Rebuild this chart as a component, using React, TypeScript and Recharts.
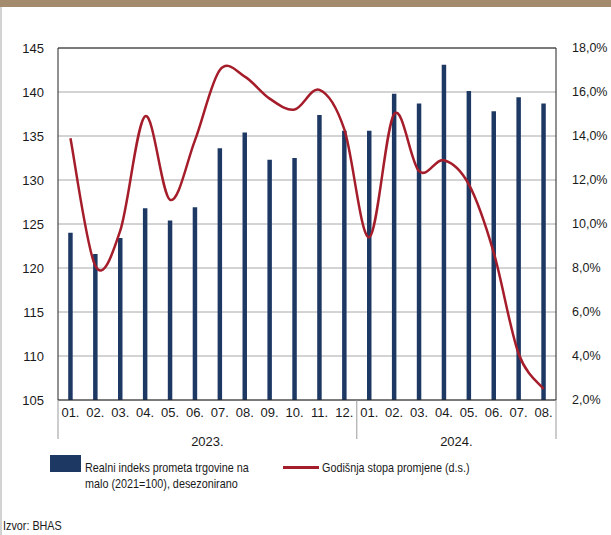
import React from 'react';
import { ComposedChart, Bar, Line, XAxis, YAxis, CartesianGrid, ReferenceLine } from 'recharts';

const months = ['01.', '02.', '03.', '04.', '05.', '06.', '07.', '08.', '09.', '10.', '11.', '12.', '01.', '02.', '03.', '04.', '05.', '06.', '07.', '08.'];
const years = ['2023.', '2023.', '2023.', '2023.', '2023.', '2023.', '2023.', '2023.', '2023.', '2023.', '2023.', '2023.', '2024.', '2024.', '2024.', '2024.', '2024.', '2024.', '2024.', '2024.'];
const retailIndex = [124.0, 121.6, 123.4, 126.8, 125.4, 126.9, 133.6, 135.4, 132.3, 132.5, 137.4, 135.6, 135.6, 139.8, 138.7, 143.1, 140.1, 137.8, 139.4, 138.7];
const annualRate = [13.9, 8.1, 9.7, 14.9, 11.1, 13.8, 17.0, 16.7, 15.7, 15.2, 16.1, 14.3, 9.4, 15.0, 12.4, 12.9, 11.8, 8.7, 4.1, 2.5];
const leftTicks = [105, 110, 115, 120, 125, 130, 135, 140, 145];
const rightTicks = [2, 4, 6, 8, 10, 12, 14, 16, 18];

const data = months.map((m, i) => ({ key: `${years[i]}${m}`, month: m, year: years[i], index: retailIndex[i], rate: annualRate[i] }));

const FONT = '"Liberation Sans", Arial, sans-serif';
const TEXT = '#1a1a1a';
const NAVY = '#1e3864';
const RED = '#a51d2a';

// Excel-like smoothed line (Catmull-Rom bezier)
const excelSmooth: any = (context: any) => {
  let pts: number[][] = [];
  return {
    areaStart() {},
    areaEnd() {},
    lineStart() {
      pts = [];
    },
    point(x: number, y: number) {
      pts.push([+x, +y]);
    },
    lineEnd() {
      if (!pts.length) return;
      context.moveTo(pts[0][0], pts[0][1]);
      for (let i = 0; i < pts.length - 1; i++) {
        const p0 = pts[i - 1] || pts[i];
        const p1 = pts[i];
        const p2 = pts[i + 1];
        const p3 = pts[i + 2] || p2;
        context.bezierCurveTo(
          p1[0] + (p2[0] - p0[0]) / 6,
          p1[1] + (p2[1] - p0[1]) / 6,
          p2[0] - (p3[0] - p1[0]) / 6,
          p2[1] - (p3[1] - p1[1]) / 6,
          p2[0],
          p2[1]
        );
      }
    },
  };
};

const YearTick = (props: any) => {
  const { x, y, index, payload, width, visibleTicksCount } = props;
  const half = payload && payload.offset ? payload.offset : width / visibleTicksCount / 2;
  const year = years[index];
  let s = index;
  while (s > 0 && years[s - 1] === year) s--;
  let e = index;
  while (e < years.length - 1 && years[e + 1] === year) e++;
  const mid = (s + e) / 2;
  const out: React.ReactNode[] = [];
  if (index === s) {
    out.push(<line key='s' x1={x - half} x2={x - half} y1={y - 33} y2={y + 6} stroke='#9a9a9a' strokeWidth={1} />);
  }
  if (index === years.length - 1) {
    out.push(<line key='e' x1={x + half} x2={x + half} y1={y - 33} y2={y + 6} stroke='#9a9a9a' strokeWidth={1} />);
  }
  if (index === Math.floor(mid)) {
    out.push(
      <text key='t' x={x + (mid - index) * 2 * half} y={y + 4} dy='0.71em' textAnchor='middle' fontSize={13} fontFamily={FONT} fill={TEXT}>
        {year}
      </text>
    );
  }
  return <g>{out}</g>;
};

const narrow: React.CSSProperties = {
  position: 'absolute',
  fontSize: 13,
  lineHeight: '16px',
  whiteSpace: 'nowrap',
  transform: 'scaleX(0.83)',
  transformOrigin: 'left top',
};

const App: React.FC = () => {
  return (
    <div style={{ position: 'absolute', left: 0, top: 0, width: 611, height: 535, background: '#fff', fontFamily: FONT, color: TEXT }}>
      <div style={{ position: 'absolute', left: 0, top: 0, width: 611, height: 7, background: '#a48b6e' }} />
      <div style={{ position: 'absolute', left: 0, top: 7, width: 2, height: 528, background: '#d2d2d2' }} />
      <ComposedChart
        width={611}
        height={460}
        data={data}
        margin={{ top: 48, right: 0, bottom: 10, left: 0 }}
        barCategoryGap='59%'
        style={{ position: 'absolute', left: 0, top: 0 }}
      >
        <CartesianGrid vertical={false} stroke='#a8a8a8' yAxisId='left' />
        <XAxis
          dataKey='key'
          xAxisId={0}
          interval={0}
          tickLine={false}
          axisLine={{ stroke: '#222', strokeWidth: 1 }}
          height={25}
          tickFormatter={(_v: any, i: number) => months[i]}
          tick={{ fontSize: 13, fontFamily: FONT, fill: TEXT }}
        />
        <XAxis
          dataKey='key'
          xAxisId='year'
          interval={0}
          tickLine={false}
          axisLine={false}
          height={25}
          tick={<YearTick />}
        />
        <YAxis
          yAxisId='left'
          domain={[105, 145]}
          ticks={leftTicks}
          interval={0}
          tickLine={false}
          axisLine={{ stroke: '#222', strokeWidth: 1 }}
          width={58}
          tickMargin={8}
          tick={{ fontSize: 13, fontFamily: FONT, fill: TEXT }}
        />
        <YAxis
          yAxisId='right'
          orientation='right'
          domain={[2, 18]}
          ticks={rightTicks}
          interval={0}
          tickLine={false}
          axisLine={{ stroke: '#222', strokeWidth: 1 }}
          width={55}
          tickMargin={10}
          tickFormatter={(v: number) => `${v.toFixed(1).replace('.', ',')}%`}
          tick={{ fontSize: 12.5, fontFamily: FONT, fill: TEXT }}
        />
        <ReferenceLine yAxisId='left' y={145} stroke='#222' strokeWidth={1} />
        <Bar dataKey='index' yAxisId='left' fill={NAVY} isAnimationActive={false} />
        <Line
          dataKey='rate'
          yAxisId='right'
          type={excelSmooth}
          stroke={RED}
          strokeWidth={2.5}
          dot={false}
          activeDot={false}
          isAnimationActive={false}
        />
      </ComposedChart>
      <div style={{ position: 'absolute', left: 50, top: 455, width: 31, height: 17, background: NAVY }} />
      <div style={{ ...narrow, left: 85, top: 460 }}>
        Realni indeks prometa trgovine na
        <br />
        malo (2021=100), desezonirano
      </div>
      <div style={{ position: 'absolute', left: 283, top: 466, width: 36, height: 3, background: RED }} />
      <div style={{ ...narrow, left: 322, top: 460 }}>Godišnja stopa promjene (d.s.)</div>
      <div style={{ ...narrow, left: 3, top: 518 }}>Izvor: BHAS</div>
    </div>
  );
};

export default App;
